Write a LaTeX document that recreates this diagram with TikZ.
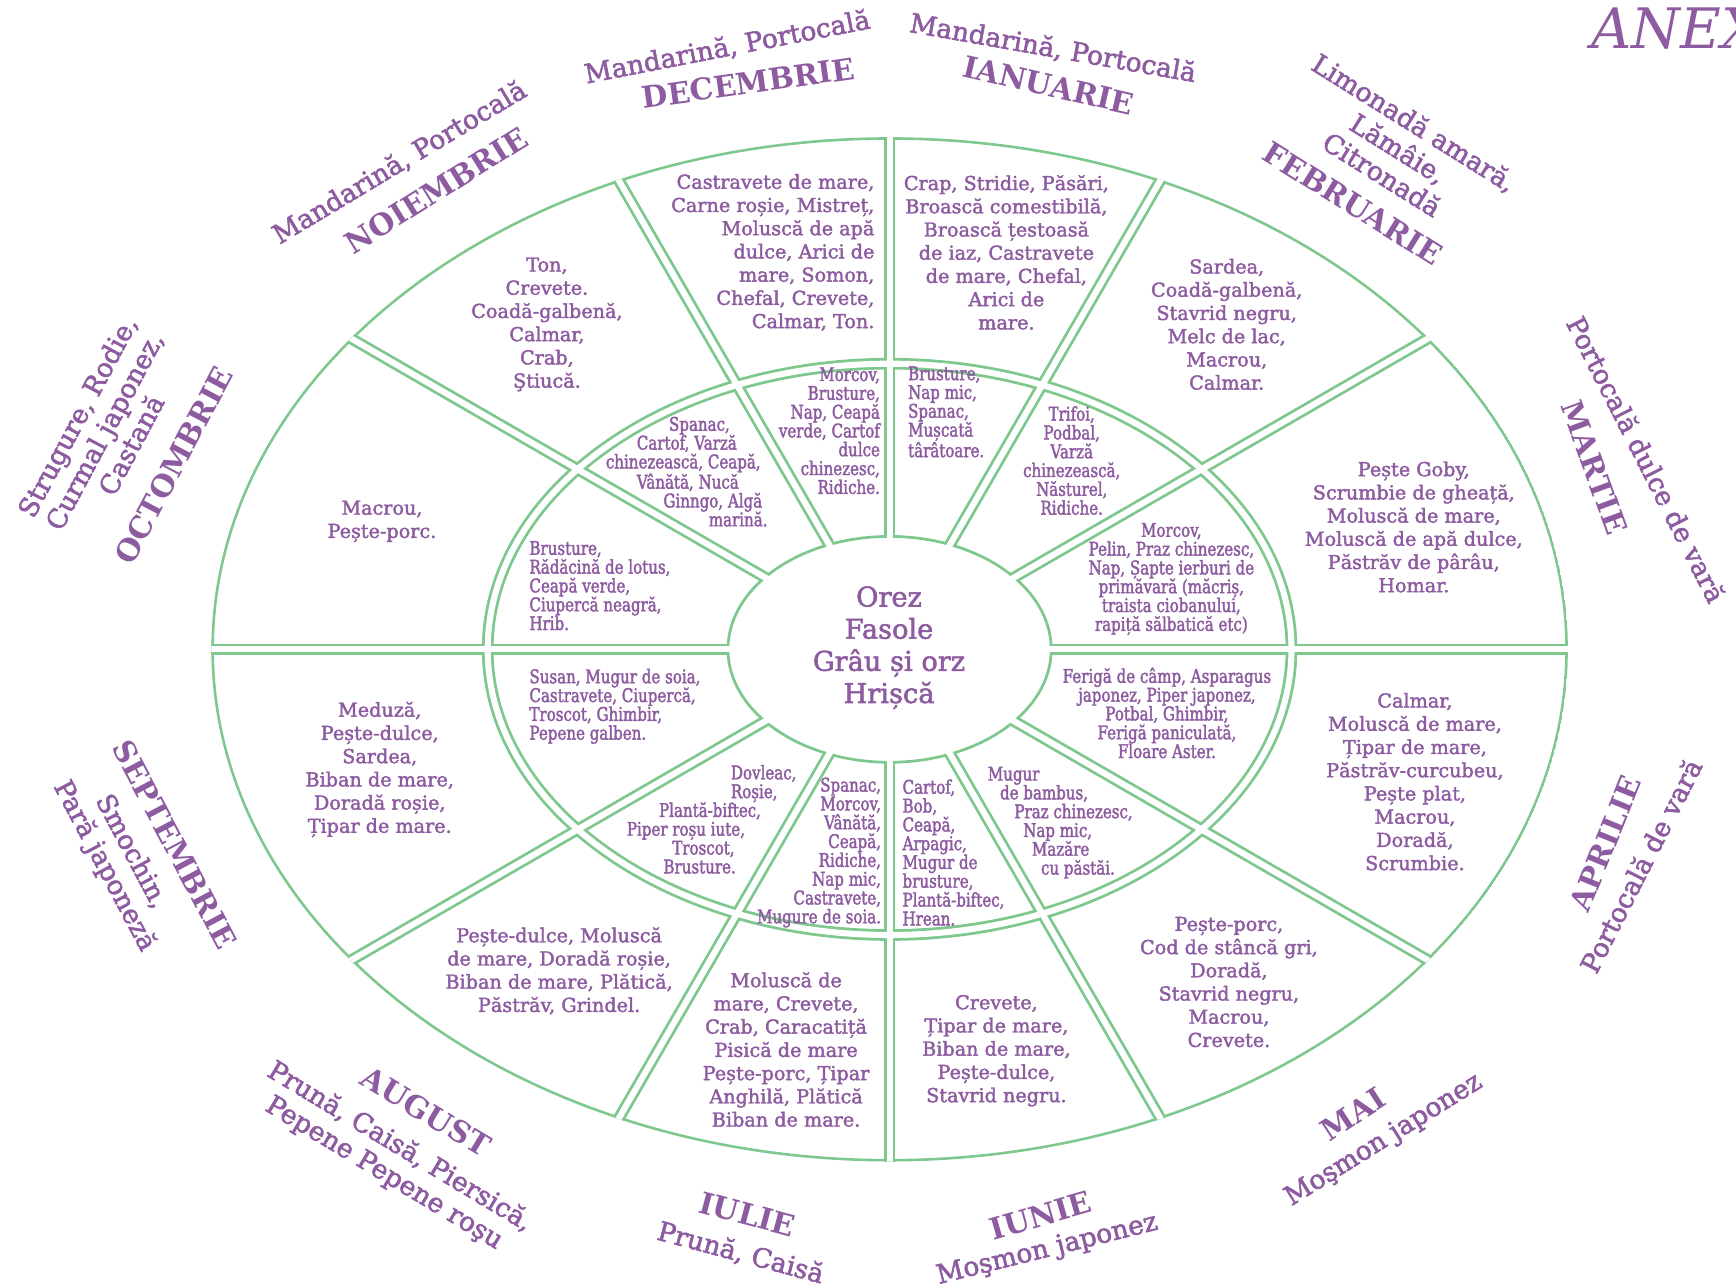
\documentclass[tikz,border=0pt]{standalone}
\usepackage{fontspec}
\setmainfont{DejaVu Serif}
\newfontfamily\heavyserif[FakeBold=2]{DejaVu Serif}
\newfontfamily\narrowserif[FakeStretch=0.8, FakeBold=2]{DejaVu Serif}
\usepackage{xcolor}
\usepackage{tikz}

\definecolor{leafgreen}{RGB}{126,199,141}
\definecolor{plum}{RGB}{141,91,160}

\newcommand{\fishfont}{\heavyserif\fontsize{14.8}{17.9}\selectfont}
\newcommand{\vegfont}{\narrowserif\fontsize{14.5}{14.5}\selectfont}
\newcommand{\monthfont}{\bfseries\fontsize{23}{27}\selectfont}
\newcommand{\fruitfont}{\heavyserif\fontsize{20.4}{23.5}\selectfont}
\newcommand{\grainfont}{\heavyserif\fontsize{21}{24.8}\selectfont}

\begin{document}
\begin{tikzpicture}[x=0.03cm, y=-0.03cm,
    cellline/.style={draw=leafgreen, line width=2.1pt},
    gapfill/.style={draw=leafgreen, line width=9pt},
    gapcut/.style={draw=white, line width=4.7pt},
    fish/.style={text=plum, font=\fishfont, inner sep=0pt, align=center},
    veg/.style={text=plum, font=\vegfont, inner sep=0pt, align=center},
    month/.style={text=plum, font=\monthfont, inner sep=0pt},
    fruit/.style={text=plum, font=\fruitfont, inner sep=0pt, align=center}]

        \useasboundingbox (0,0) rectangle (1568,1163);
        \coordinate (hub) at (803.5,586.5);

        % Rings and spokes
        \begin{scope}[shift={(hub)}, y=0.03cm]
            \clip (0,0) ellipse [x radius=612.6, y radius=462.6];
            \foreach \a in {0,30,...,330}
                \draw[gapfill] (0,0) -- (\a:700);
            \draw[gapfill] (0,0) ellipse [x radius=363, y radius=258];
            \fill[white] (0,0) ellipse [x radius=146, y radius=102];
            \draw[cellline] (0,0) ellipse [x radius=146, y radius=102];
            \draw[cellline] (0,0) ellipse [x radius=611.5, y radius=461.5];
            \foreach \a in {0,30,...,330}
                \draw[gapcut] (0,0) -- (\a:700);
            \draw[gapcut] (0,0) ellipse [x radius=363, y radius=258];
        \end{scope}

        % Title
        \node[text=plum, font=\itshape\fontsize{43}{48}\selectfont,
            anchor=base west, inner sep=0pt] (annex) at (1437,44) {ANEX};

        % Grains
        \node[text=plum, font=\grainfont, align=center, inner sep=0pt] (grains) at (803,585)
            {Orez\\Fasole\\Grâu și orz\\Hrișcă};

        % January
        \node[fish] (jan-fish) at (909,228) {Crap, Stridie, Păsări,\\Broască comestibilă,\\Broască țestoasă\\de iaz, Castravete\\de mare, Chefal,\\Arici de\\mare.};
        \node[veg, align=left, anchor=west] (jan-veg) at (820,372) {Brusture,\\Nap mic,\\Spanac,\\Mușcată\\târâtoare.};
        \node[month, rotate=-13] (jan-name) at (947,77) {IANUARIE};
        \node[fruit, rotate=-10] (jan-fruit) at (951,44) {Mandarină, Portocală};

        % February
        \node[fish] (feb-fish) at (1108,293) {Sardea,\\Coadă-galbenă,\\Stavrid negru,\\Melc de lac,\\Macrou,\\Calmar.};
        \node[veg] (feb-veg) at (968,416) {Trifoi,\\Podbal,\\Varză\\chinezească,\\Năsturel,\\Ridiche.};
        \node[month, rotate=-32] (feb-name) at (1222,184) {FEBRUARIE};
        \node[fruit, rotate=-32] (feb-fruit) at (1263,134) {Limonadă amară,\\Lămâie,\\Citronadă};

        % March
        \node[fish] (mar-fish) at (1277,476) {Pește Goby,\\Scrumbie de gheață,\\Moluscă de mare,\\Moluscă de apă dulce,\\Păstrăv de pârâu,\\Homar.};
        \node[veg] (mar-veg) at (1058,523) {Morcov,\\Pelin, Praz chinezesc,\\Nap, Șapte ierburi de\\primăvară (măcriș,\\traista ciobanului,\\rapiță sălbatică etc)};
        \node[month, rotate=-70] (mar-name) at (1440,422) {MARTIE};
        \node[fruit, rotate=-63] (mar-fruit) at (1487,415) {Portocală dulce de vară};

        % April
        \node[fish] (apr-fish) at (1278,706) {Calmar,\\Moluscă de mare,\\Țipar de mare,\\Păstrăv-curcubeu,\\Pește plat,\\Macrou,\\Doradă,\\Scrumbie.};
        \node[veg] (apr-veg) at (1054,644) {Ferigă de câmp, Asparagus\\japonez, Piper japonez,\\Potbal, Ghimbir,\\Ferigă paniculată,\\Floare Aster.};
        \node[month, rotate=68] (apr-name) at (1450,762) {APRILIE};
        \node[fruit, rotate=63] (apr-fruit) at (1482,782) {Portocală de vară};

        % May
        \node[fish] (may-fish) at (1110,887) {Pește-porc,\\Cod de stâncă gri,\\Doradă,\\Stavrid negru,\\Macrou,\\Crevete.};
        \node[veg, align=left, anchor=west] (may-veg) at (892,743) {Mugur\\\hspace*{9.4pt}de bambus,\\\hspace*{20.5pt}Praz chinezesc,\\\hspace*{27.3pt}Nap mic,\\\hspace*{34pt}Mazăre\\\hspace*{41pt}cu păstăi.};
        \node[month, rotate=33] (may-name) at (1222,1006) {MAI};
        \node[fruit, rotate=32] (may-fruit) at (1250,1030) {Moşmon japonez};

        % June
        \node[fish] (jun-fish) at (900,949) {Crevete,\\Țipar de mare,\\Biban de mare,\\Pește-dulce,\\Stavrid negru.};
        \node[veg, align=left, anchor=west] (jun-veg) at (815,770) {Cartof,\\Bob,\\Ceapă,\\Arpagic,\\Mugur de\\brusture,\\Plantă-biftec,\\Hrean.};
        \node[month, rotate=16] (jun-name) at (940,1098) {IUNIE};
        \node[fruit, rotate=14] (jun-fruit) at (946,1129) {Moşmon japonez};

        % July
        \node[fish] (jul-fish) at (710,948) {Moluscă de\\mare, Crevete,\\Crab, Caracatiță\\Pisică de mare\\Pește-porc, Țipar\\Anghilă, Plătică\\Biban de mare.};
        \node[veg, align=right, anchor=east] (jul-veg) at (796,770) {Spanac,\\Morcov,\\Vânătă,\\Ceapă,\\Ridiche,\\Nap mic,\\Castravete,\\Mugure de soia.};
        \node[month, rotate=-15] (jul-name) at (675,1097) {IULIE};
        \node[fruit, rotate=-15] (jul-fruit) at (669,1132) {Prună, Caisă};

        % August
        \node[fish] (aug-fish) at (505,877) {Pește-dulce, Moluscă\\de mare, Doradă roșie,\\Biban de mare, Plătică,\\Păstrăv, Grindel.};
        \node[veg, align=left, anchor=west] (aug-veg) at (566,740) {\hspace*{80.2pt}Dovleac,\\\hspace*{80.2pt}Roșie,\\\hspace*{24.8pt}Plantă-biftec,\\Piper roșu iute,\\\hspace*{35pt}Troscot,\\\hspace*{28.2pt}Brusture.};
        \node[month, rotate=-31] (aug-name) at (385,1004) {AUGUST};
        \node[fruit, rotate=-31] (aug-fruit) at (354,1048) {Prună, Caisă, Piersică,\\Pepene Pepene roşu};

        % September
        \node[fish] (sep-fish) at (343,695) {Meduză,\\Pește-dulce,\\Sardea,\\Biban de mare,\\Doradă roșie,\\Țipar de mare.};
        \node[veg, align=left, anchor=west] (sep-veg) at (478,638) {Susan, Mugur de soia,\\Castravete, Ciupercă,\\Troscot, Ghimbir,\\Pepene galben.};
        \node[month, rotate=-62] (sep-name) at (158,763) {SEPTEMBRIE};
        \node[fruit, rotate=-62] (sep-fruit) at (106,776) {Smochin,\\Pară japoneză};

        % October
        \node[fish] (oct-fish) at (345,471) {Macrou,\\Pește-porc.};
        \node[veg, align=left, anchor=west] (oct-veg) at (478,529) {Brusture,\\Rădăcină de lotus,\\Ceapă verde,\\Ciupercă neagră,\\Hrib.};
        \node[month, rotate=62] (oct-name) at (157,420) {OCTOMBRIE};
        \node[fruit, rotate=62] (oct-fruit) at (94,389) {Strugure, Rodie,\\Curmal japonez,\\Castană};

        % November
        \node[fish] (nov-fish) at (494,293) {Ton,\\Crevete.\\Coadă-galbenă,\\Calmar,\\Crab,\\Ştiucă.};
        \node[veg, align=left, anchor=west] (nov-veg) at (547,426) {\hspace*{48.7pt}Spanac,\\\hspace*{23.9pt}Cartof, Varză\\chinezească, Ceapă,\\\hspace*{23.9pt}Vânătă, Nucă\\\hspace*{44.4pt}Ginngo, Algă\\\hspace*{79.4pt}marină.};
        \node[month, rotate=32] (nov-name) at (394,172) {NOIEMBRIE};
        \node[fruit, rotate=31] (nov-fruit) at (361,147) {Mandarină, Portocală};

        % December
        \node[fish, align=right, anchor=east] (dec-fish) at (790,228) {Castravete de mare,\\Carne roșie, Mistreț,\\Moluscă de apă\\dulce, Arici de\\mare, Somon,\\Chefal, Crevete,\\Calmar, Ton.};
        \node[veg, align=right, anchor=east] (dec-veg) at (795,389) {Morcov,\\Brusture,\\Nap, Ceapă\\verde, Cartof\\dulce\\chinezesc,\\Ridiche.};
        \node[month, rotate=8] (dec-name) at (676,75) {DECEMBRIE};
        \node[fruit, rotate=11] (dec-fruit) at (657,43) {Mandarină, Portocală};
\end{tikzpicture}
\end{document}
